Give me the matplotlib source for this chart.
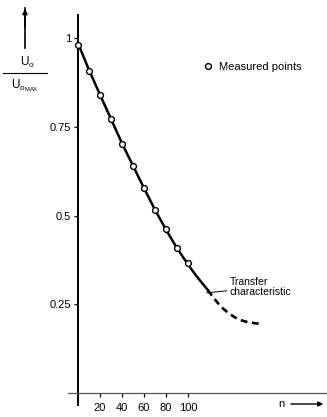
import numpy as np
import matplotlib.pyplot as plt

plt.rcParams['font.family'] = ['Liberation Sans', 'DejaVu Sans']

# measured points (n, U0/U0max)
n_meas = [0, 10, 20, 30, 40, 50, 60, 70, 80, 90, 100]
u_meas = [0.980, 0.907, 0.839, 0.772, 0.701, 0.639, 0.577, 0.515, 0.462, 0.408, 0.366]

# transfer characteristic, solid part and dashed extrapolation
n_solid = [0, 10, 20, 30, 40, 50, 60, 70, 80, 90, 100, 108, 118]
u_solid = [0.985, 0.910, 0.840, 0.772, 0.703, 0.640, 0.577, 0.516, 0.460, 0.408, 0.362, 0.328, 0.290]
n_dash = [118, 124, 130, 136, 142, 148, 155, 162, 168]
u_dash = [0.290, 0.265, 0.243, 0.227, 0.214, 0.205, 0.199, 0.196, 0.195]

x_ticks = [20, 40, 60, 80, 100]
y_ticks = [0.25, 0.5, 0.75, 1]
y_ticklabels = ['0.25', '0.5', '0.75', '1']

fig = plt.figure(figsize=(3.27, 4.17), dpi=100)
ax = fig.add_axes([60 / 327, 7 / 417, 267 / 327, 400 / 417])
ax.set_xlim(-16.4, 226.4)
ax.set_ylim(-0.048, 1.079)

for s in ['top', 'right']:
    ax.spines[s].set_visible(False)
ax.spines['left'].set_position(('data', 0))
ax.spines['bottom'].set_position(('data', 0))
ax.spines['left'].set_bounds(-0.035, 1.065)
ax.spines['bottom'].set_bounds(-9, 226.4)
ax.spines['left'].set_linewidth(1.4)
ax.spines['bottom'].set_linewidth(0.9)
ax.spines['bottom'].set_color('#555555')

ax.set_xticks(x_ticks)
ax.set_xticklabels([str(v) for v in x_ticks])
ax.set_yticks(y_ticks)
ax.set_yticklabels(y_ticklabels)
ax.tick_params(axis='both', direction='out', length=3, width=0.9, labelsize=8, pad=2)
ax.tick_params(axis='x', pad=4)

ax.plot(n_solid, u_solid, color='black', lw=1.8, zorder=2)
ax.plot(n_dash, u_dash, color='black', lw=1.9, dashes=(2.6, 1.7), zorder=2)
ax.plot(n_meas, u_meas, 'o', ms=4.2, mfc='white', mec='black', mew=1.0,
        zorder=3, label='Measured points')

ax.legend(loc='upper left', bbox_to_anchor=(0.52, 0.885), frameon=False,
          handlelength=0.6, handletextpad=0.7, fontsize=8, borderpad=0)

ax.annotate('Transfer\ncharacteristic', xy=(117, 0.282), xytext=(138, 0.298),
            fontsize=7.5, ha='left', va='center', linespacing=1.0,
            arrowprops=dict(arrowstyle='-', color='black', lw=0.7,
                            shrinkA=0, shrinkB=0))

# y axis label with arrow
fig.text(27 / 327, 1 - 62 / 417, r'U$_\mathregular{o}$', ha='center', va='center', fontsize=8.5)
fig.text(25 / 327, 1 - 86 / 417, r'U$_\mathregular{o_{MAX}}$', ha='center', va='center', fontsize=8.5)
fig.add_artist(plt.Line2D([3 / 327, 47 / 327], [1 - 73 / 417, 1 - 73 / 417], color='black', lw=0.8))
fig.add_artist(plt.Line2D([25 / 327, 25 / 327], [1 - 48 / 417, 1 - 8 / 417], color='black', lw=1.2))
ax.annotate('', xy=(25 / 327, 1 - 6 / 417), xytext=(25 / 327, 1 - 30 / 417),
            xycoords='figure fraction',
            arrowprops=dict(arrowstyle='-|>', color='black', lw=1.2, mutation_scale=7))

# n arrow
fig.text(281 / 327, 1 - 404 / 417, 'n', ha='center', va='center', fontsize=8)
ax.annotate('', xy=(326 / 327, 1 - 404 / 417), xytext=(288 / 327, 1 - 404 / 417),
            xycoords='figure fraction',
            arrowprops=dict(arrowstyle='-|>', color='black', lw=1.0, mutation_scale=7))

fig.savefig('out.png', dpi=100)
